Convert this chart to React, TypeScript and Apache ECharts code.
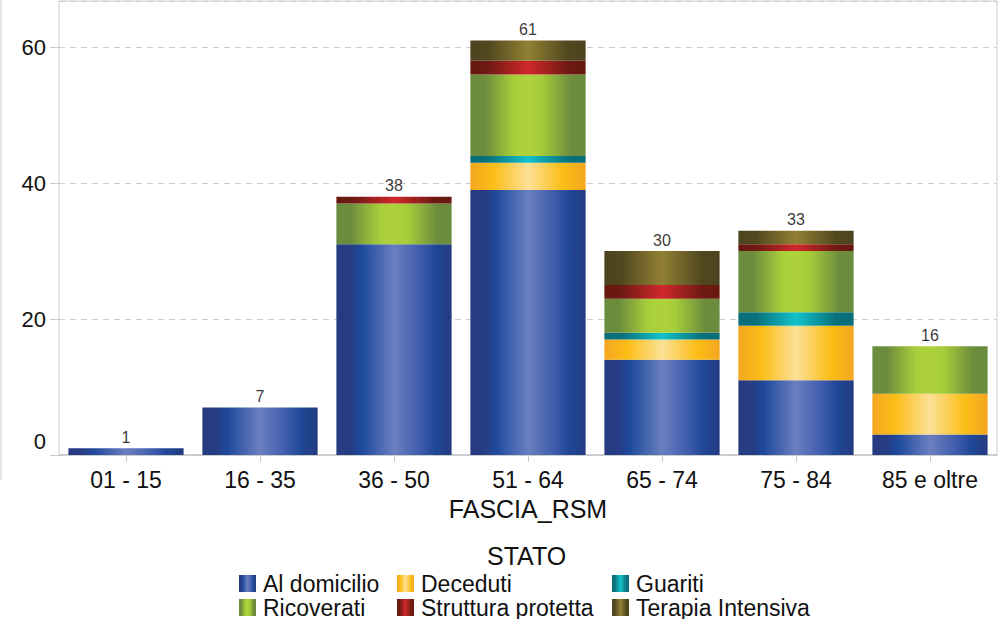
import React, { useEffect, useRef } from "react";
import * as echarts from "echarts";

const categories = ["01 - 15", "16 - 35", "36 - 50", "51 - 64", "65 - 74", "75 - 84", "85 e oltre"];
const alDomicilio = [1, 7, 31, 39, 14, 11, 3];
const deceduti = [0, 0, 0, 4, 3, 8, 6];
const guariti = [0, 0, 0, 1, 1, 2, 0];
const ricoverati = [0, 0, 6, 12, 5, 9, 7];
const strutturaProtetta = [0, 0, 1, 2, 2, 1, 0];
const terapiaIntensiva = [0, 0, 0, 3, 5, 2, 0];
const totals = [1, 7, 38, 61, 30, 33, 16];
const yTicks = [0, 20, 40, 60];

const FONT = "'Liberation Sans', Arial, Helvetica, sans-serif";

const grad = (stops: [number, string][]) =>
  new echarts.graphic.LinearGradient(
    0, 0, 1, 0,
    stops.map(([offset, color]) => ({ offset, color }))
  );

const colors: Record<string, any> = {
  "Al domicilio": grad([
    [0, "#263B80"], [0.12, "#263C84"], [0.22, "#1E4A9C"], [0.5, "#6A7FC0"],
    [0.75, "#3A58A9"], [0.86, "#1F4797"], [1, "#263B80"],
  ]),
  Deceduti: grad([
    [0, "#F4A620"], [0.2, "#FBBE17"], [0.5, "#FDE097"], [0.8, "#FBBE17"], [1, "#F4A620"],
  ]),
  Guariti: grad([
    [0, "#0A6E78"], [0.15, "#0A707B"], [0.5, "#12C2CA"], [0.85, "#0A707B"], [1, "#0A6E78"],
  ]),
  Ricoverati: grad([
    [0, "#6B8B3D"], [0.12, "#6B8B3D"], [0.38, "#A8CF3A"], [0.5, "#AED23B"],
    [0.62, "#A5CC3A"], [0.88, "#6B8B3D"], [1, "#6B8B3D"],
  ]),
  "Struttura protetta": grad([
    [0, "#66190F"], [0.15, "#6E1A12"], [0.5, "#D0282C"], [0.85, "#6E1A12"], [1, "#66190F"],
  ]),
  "Terapia Intensiva": grad([
    [0, "#4C431E"], [0.15, "#51471F"], [0.5, "#918033"], [0.85, "#51471F"], [1, "#4C431E"],
  ]),
};

const seriesDefs: [string, number[]][] = [
  ["Al domicilio", alDomicilio],
  ["Deceduti", deceduti],
  ["Guariti", guariti],
  ["Ricoverati", ricoverati],
  ["Struttura protetta", strutturaProtetta],
  ["Terapia Intensiva", terapiaIntensiva],
];

// legend slot for each series: [left, top]
const legendSlots: Record<string, [number, number]> = {
  "Al domicilio": [239, 572],
  Deceduti: [397, 572],
  Guariti: [612, 572],
  Ricoverati: [239, 596],
  "Struttura protetta": [397, 596],
  "Terapia Intensiva": [612, 596],
};

export default function App() {
  const ref = useRef<HTMLDivElement>(null);
  useEffect(() => {
    if (!ref.current) return;
    const chart = echarts.init(ref.current, null, { renderer: "svg" });
    const legends = seriesDefs.map(([name]) => ({
      orient: "horizontal",
      left: legendSlots[name][0],
      top: legendSlots[name][1],
      padding: 0,
      itemWidth: 17,
      itemHeight: 17,
      itemGap: 0,
      icon: "rect",
      selectedMode: false,
      data: [name],
      textStyle: { fontFamily: FONT, fontSize: 23, color: "#111", padding: [0, 0, 0, 2] },
    }));
    chart.setOption({
      animation: false,
      textStyle: { fontFamily: FONT },
      title: {
        text: "STATO",
        left: 487,
        top: 543,
        padding: 0,
        textStyle: { fontFamily: FONT, fontSize: 25, fontWeight: "normal", color: "#111" },
      },
      legend: legends,
      grid: {
        left: 59,
        right: 7,
        top: 1,
        bottom: 164,
        show: true,
        borderColor: "#cccccc",
        borderWidth: 1,
        containLabel: false,
      },
      xAxis: {
        type: "category",
        data: categories,
        name: "FASCIA_RSM",
        nameLocation: "middle",
        nameGap: 41,
        nameTextStyle: { fontFamily: FONT, fontSize: 25, color: "#111" },
        axisLine: { show: true, lineStyle: { color: "#c8c8c8", width: 1.5 } },
        axisTick: { show: true, alignWithLabel: true, length: 7, lineStyle: { color: "#c8c8c8" } },
        axisLabel: { fontFamily: FONT, fontSize: 23, color: "#111", margin: 13 },
        splitLine: { show: false },
      },
      yAxis: {
        type: "value",
        min: 0,
        max: 66.8,
        interval: 20,
        axisLine: { show: false },
        axisTick: { show: true, length: 9, lineStyle: { color: "#cccccc" } },
        axisLabel: {
          fontFamily: FONT,
          fontSize: 22,
          color: "#111",
          margin: 13,
          showMaxLabel: false,
          formatter: (v: number) =>
            v === 0 ? "{zero|0}" : yTicks.includes(v) ? String(v) : "",
          rich: {
            zero: { fontFamily: FONT, fontSize: 22, color: "#111", padding: [0, 0, 27, 0] },
          },
        },
        splitLine: { show: true, lineStyle: { color: "#cccccc", type: [6, 5] } },
      },
      series: [
        ...seriesDefs.map(([name, data]) => ({
          name,
          type: "bar",
          stack: "total",
          data,
          barCategoryGap: "14%",
          itemStyle: { color: colors[name] },
          emphasis: { disabled: true },
        })),
        {
          name: "Totale",
          type: "scatter",
          data: totals,
          symbolSize: 0,
          z: 10,
          label: {
            show: true,
            position: "top",
            distance: 3,
            fontFamily: FONT,
            fontSize: 16,
            color: "#000",
          },
          silent: true,
        },
      ],
      graphic: [
        {
          type: "line",
          shape: { x1: 1, y1: 0, x2: 1, y2: 480 },
          style: { stroke: "#cccccc", lineWidth: 1 },
          silent: true,
        },
      ],
    });
    return () => chart.dispose();
  }, []);
  return (
    <div
      ref={ref}
      style={{ position: "absolute", left: 0, top: 0, width: 1004, height: 619 }}
    />
  );
}
